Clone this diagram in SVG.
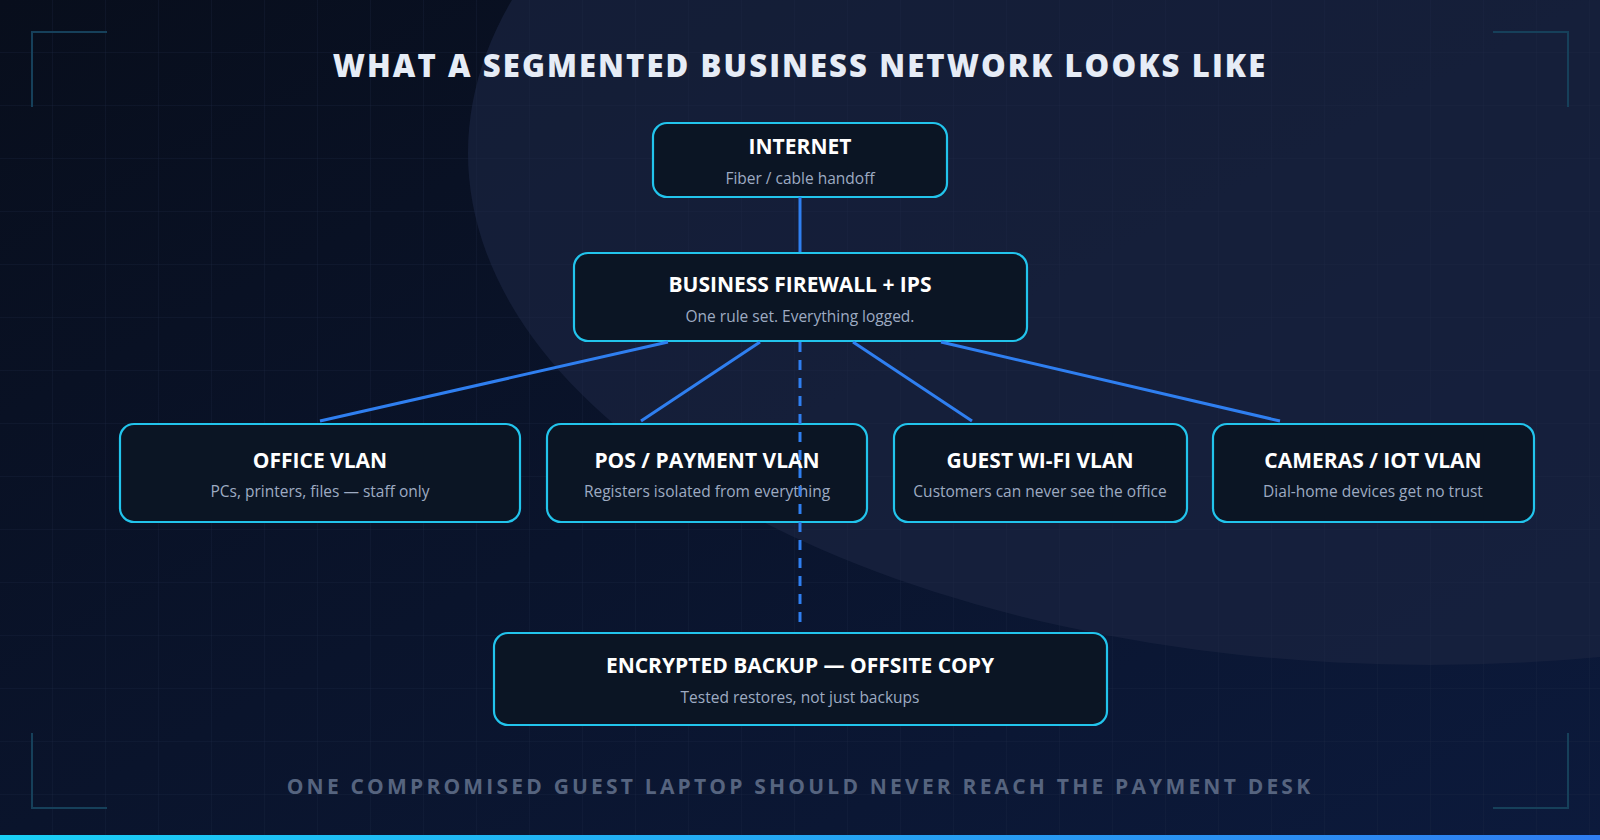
<svg xmlns="http://www.w3.org/2000/svg" width="1600" height="840" viewBox="0 0 1600 840">
<defs>
<linearGradient id="bg" x1="0" y1="0" x2="1" y2="1"><stop offset="0" stop-color="#080e1c"/><stop offset="1" stop-color="#0c1a3c"/></linearGradient>
<linearGradient id="bar" x1="0" y1="0" x2="1" y2="0"><stop offset="0" stop-color="#1ad0f5"/><stop offset="1" stop-color="#2f7df0"/></linearGradient>
<pattern id="grid" width="53" height="53" patternUnits="userSpaceOnUse"><path d="M53 0V53H0" fill="none" stroke="#1e2c48" stroke-width="1" opacity="0.5"/></pattern>
<style>
.box{fill:#0b1524;stroke:#22c4ec;stroke-width:2.2}
.t{font-family:"Open Sans","Noto Sans",sans-serif;font-weight:700;font-size:21px;fill:#ffffff;text-anchor:middle}
.s{font-family:"Open Sans","Noto Sans",sans-serif;font-size:15.5px;fill:#9eabc2;text-anchor:middle}
.ln{stroke:#2f7ff0;stroke-width:3;fill:none}
.br{stroke:#16405a;stroke-width:2;fill:none}
</style>
</defs>
<rect width="1600" height="840" fill="url(#bg)"/>
<ellipse cx="1430" cy="153" rx="962" ry="512" fill="#1a2440" opacity="0.7"/>
<rect width="1600" height="840" fill="url(#grid)"/>
<path class="br" d="M32 107V32H107M1493 32H1568V107M32 733V808H107M1568 733V808H1493"/>
<text x="800" y="77" font-family="'Open Sans','Noto Sans',sans-serif" font-weight="800" font-size="31" letter-spacing="2.1" fill="#e6ecf6" text-anchor="middle">WHAT A SEGMENTED BUSINESS NETWORK LOOKS LIKE</text>
<g id="internet"><rect class="box" x="653" y="123" width="294" height="74" rx="14"/><text class="t" x="800" y="154">INTERNET</text><text class="s" x="800" y="184">Fiber / cable handoff</text></g>
<g id="firewall"><rect class="box" x="574" y="253" width="453" height="88" rx="14"/><text class="t" x="800" y="292">BUSINESS FIREWALL + IPS</text><text class="s" x="800" y="322">One rule set. Everything logged.</text></g>
<g id="office"><rect class="box" x="120" y="424" width="400" height="98" rx="14"/><text class="t" x="320" y="468">OFFICE VLAN</text><text class="s" x="320" y="497">PCs, printers, files — staff only</text></g>
<g id="pos"><rect class="box" x="547" y="424" width="320" height="98" rx="14"/><text class="t" x="707" y="468">POS / PAYMENT VLAN</text><text class="s" x="707" y="497">Registers isolated from everything</text></g>
<g id="guest"><rect class="box" x="894" y="424" width="293" height="98" rx="14"/><text class="t" x="1040" y="468">GUEST WI-FI VLAN</text><text class="s" x="1040" y="497">Customers can never see the office</text></g>
<g id="cameras"><rect class="box" x="1213" y="424" width="321" height="98" rx="14"/><text class="t" x="1373" y="468">CAMERAS / IOT VLAN</text><text class="s" x="1373" y="497">Dial-home devices get no trust</text></g>
<g id="backup"><rect class="box" x="494" y="633" width="613" height="92" rx="14"/><text class="t" x="800" y="673">ENCRYPTED BACKUP — OFFSITE COPY</text><text class="s" x="800" y="703">Tested restores, not just backups</text></g>
<g id="connectors">
<path class="ln" d="M800 197V252"/>
<path class="ln" d="M668 342L320 421M760 342L641 421M853 342L972 421M941 342L1280 421"/>
<path class="ln" d="M800 342V630" stroke-dasharray="10 8"/>
</g>
<text x="800" y="794" font-family="'Open Sans','Noto Sans',sans-serif" font-weight="700" font-size="21" letter-spacing="3.2" fill="#56647f" text-anchor="middle">ONE COMPROMISED GUEST LAPTOP SHOULD NEVER REACH THE PAYMENT DESK</text>
<rect x="0" y="835" width="1600" height="5" fill="url(#bar)"/>
</svg>
